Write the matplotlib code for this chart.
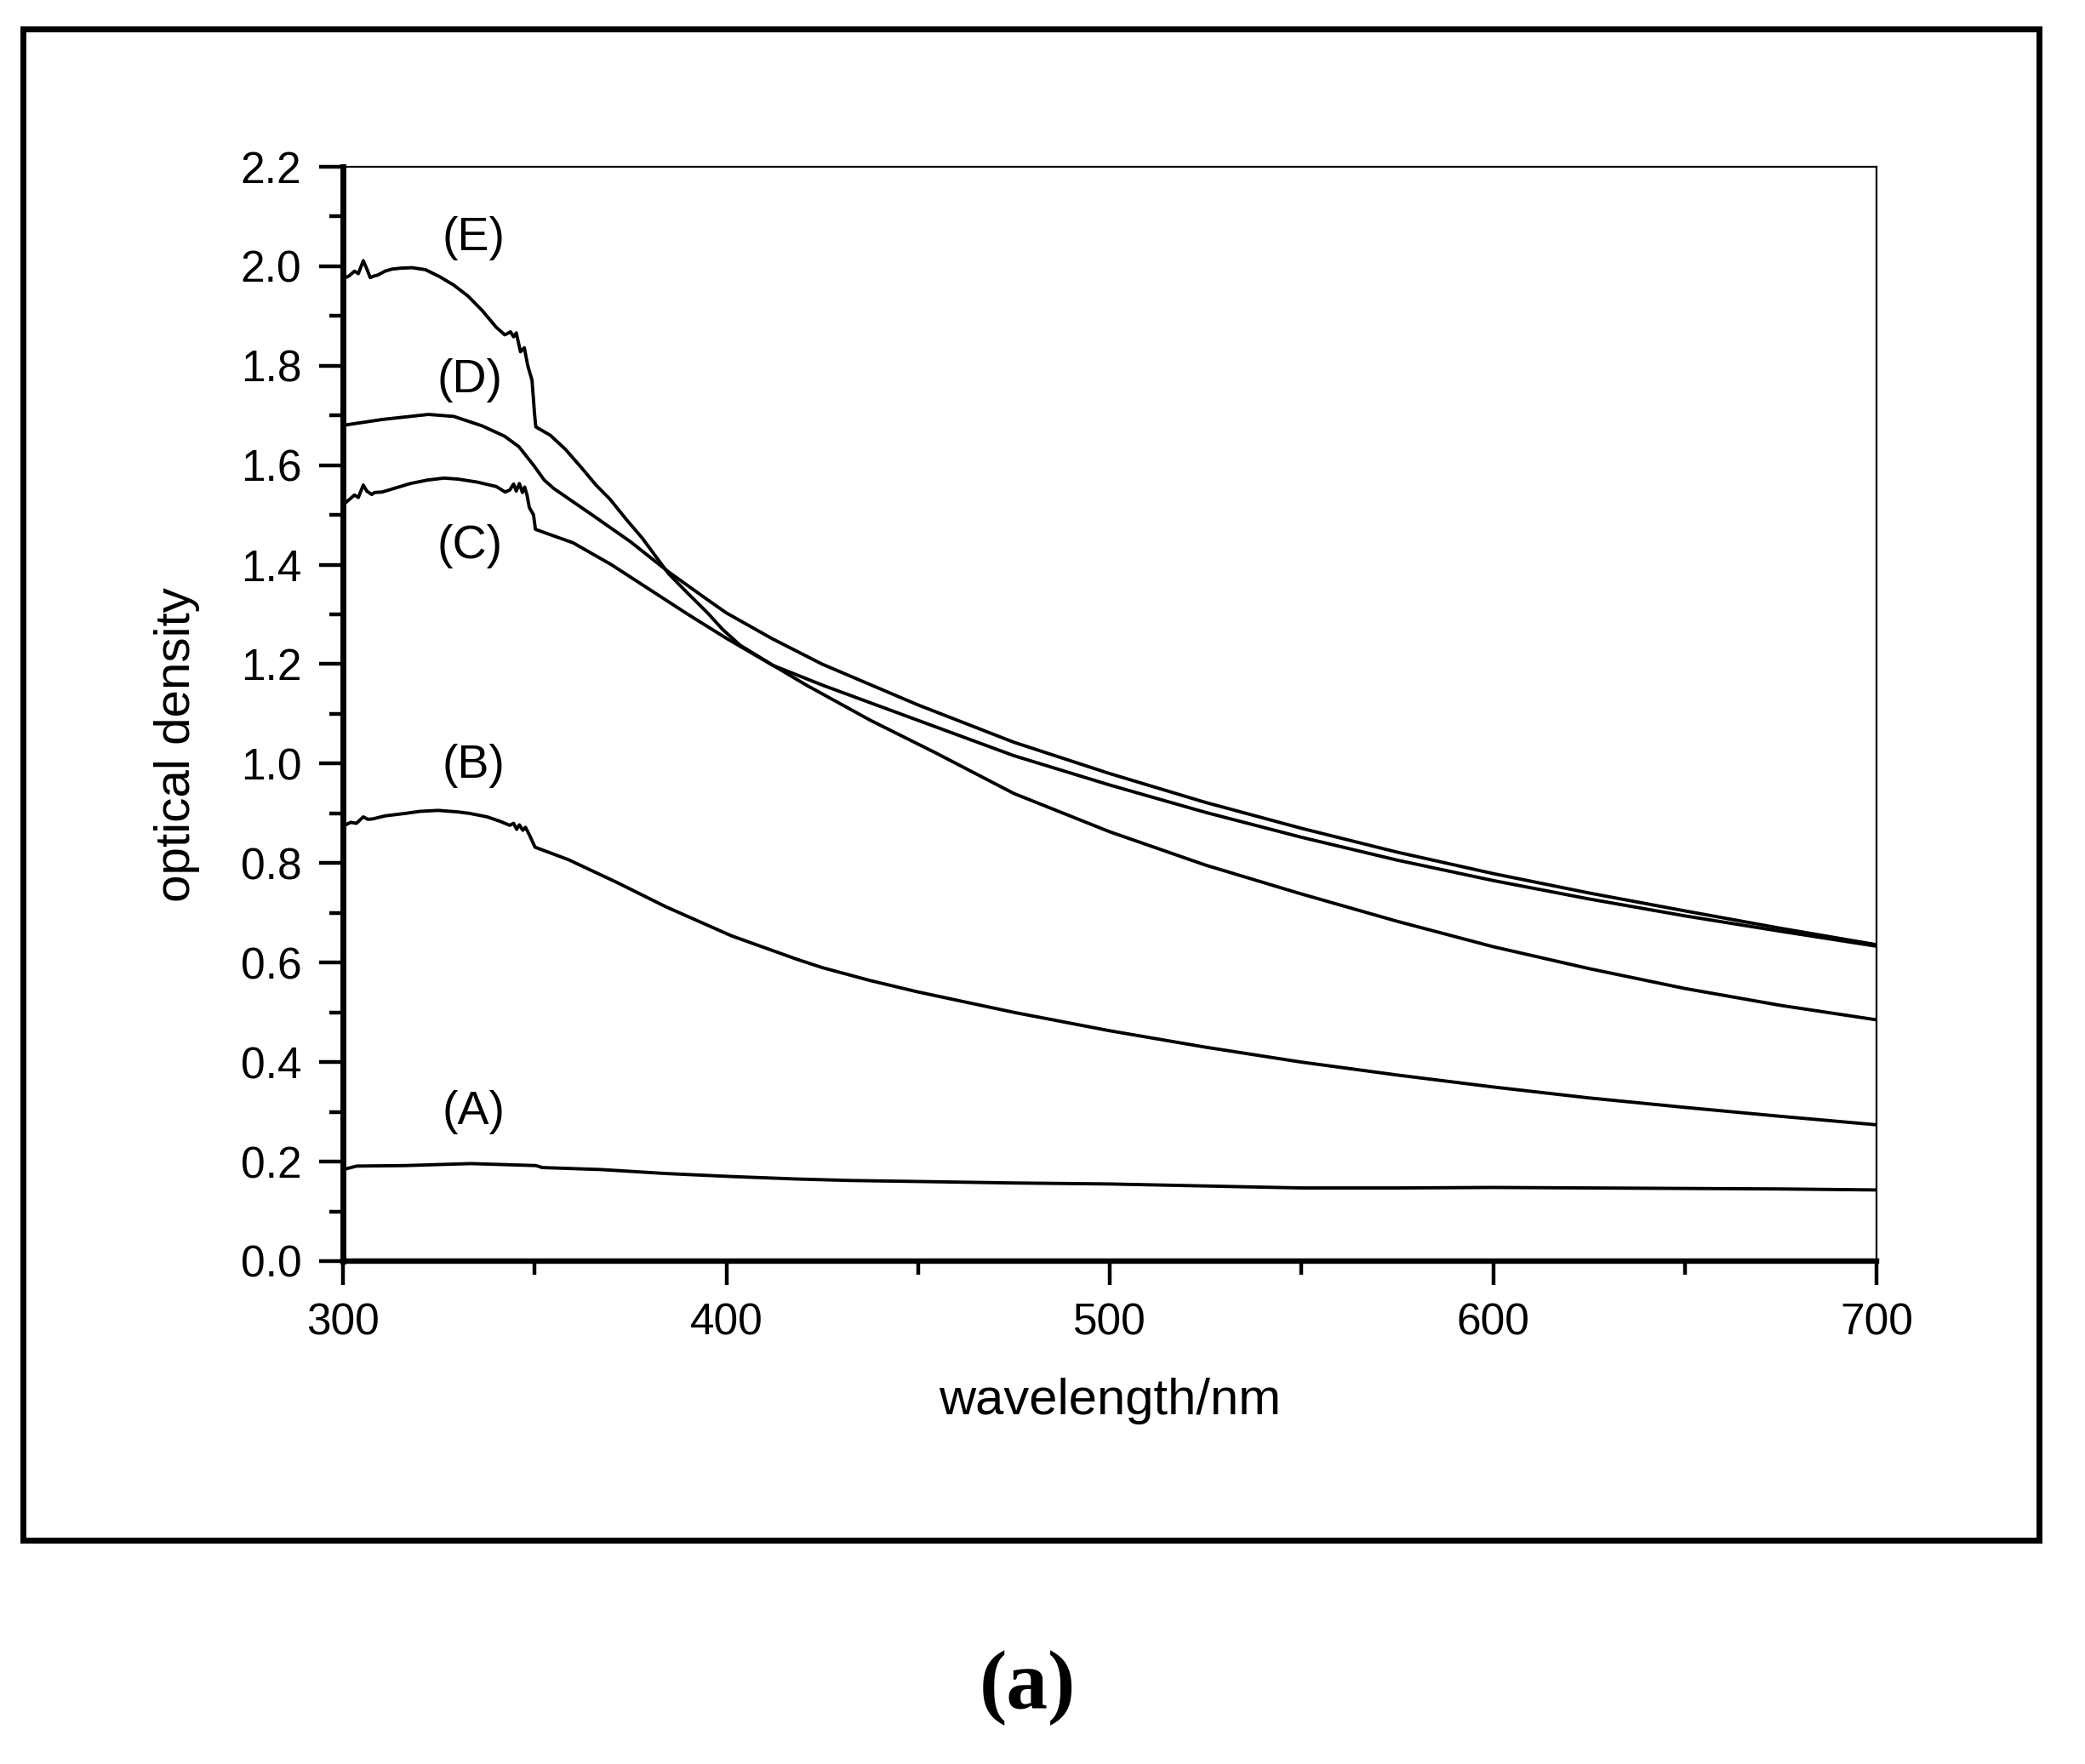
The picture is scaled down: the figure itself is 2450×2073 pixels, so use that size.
import matplotlib
matplotlib.use("Agg")
import matplotlib.pyplot as plt
from matplotlib.patches import Rectangle
from matplotlib.ticker import MultipleLocator, FormatStrFormatter

plt.rcParams['font.family'] = ['Liberation Sans', 'DejaVu Sans']

# ---------------- data ----------------
wl_A = [300, 303.6, 316.3, 333.3, 350.3, 352, 367.3, 384.3, 401.3, 418.3, 432.5,
        450, 475, 500, 525, 550, 575, 600, 625, 650, 675, 700]
od_A = [0.184, 0.191, 0.192, 0.196, 0.192, 0.188, 0.184, 0.176, 0.170, 0.165, 0.162,
        0.160, 0.157, 0.155, 0.151, 0.147, 0.147, 0.148, 0.147, 0.146, 0.145, 0.143]

wl_B = [300.2, 302, 303.5, 305.3, 306.5, 307.8, 311, 316.3, 320, 324.8, 329.9, 333,
        337.6, 341, 343.5, 344.5, 345.3, 346, 346.9, 347.6, 348.6, 350.1, 358.8,
        371.5, 384.3, 401.3, 418.3, 425, 437.5, 450, 475, 500, 525, 550, 575, 600,
        625, 650, 675, 700]
od_B = [0.875, 0.882, 0.880, 0.893, 0.888, 0.889, 0.895, 0.900, 0.904, 0.906, 0.903, 0.900,
        0.893, 0.884, 0.876, 0.880, 0.868, 0.877, 0.866, 0.872, 0.857, 0.832, 0.807,
        0.761, 0.712, 0.654, 0.607, 0.590, 0.564, 0.541, 0.500, 0.463, 0.430, 0.400,
        0.374, 0.350, 0.328, 0.309, 0.291, 0.274]

wl_C = [300, 301.5, 303, 304, 305.3, 306.2, 307.5, 308.2, 310.2, 314.1, 317.5, 322,
        326.3, 330, 335, 340, 342.3, 343.5, 344.5, 345.2, 346, 346.8, 347.4, 348.0,
        348.6, 349.7, 350.2, 352, 360, 370, 380, 390, 400, 412, 425, 450, 475, 500,
        525, 550, 575, 600, 625, 650, 675, 700]
od_C = [1.520, 1.530, 1.540, 1.535, 1.560, 1.548, 1.541, 1.545, 1.546, 1.555, 1.563, 1.570,
        1.574, 1.572, 1.566, 1.557, 1.546, 1.550, 1.562, 1.548, 1.563, 1.545, 1.556, 1.540,
        1.515, 1.500, 1.471, 1.466, 1.444, 1.400, 1.350, 1.300, 1.252, 1.198, 1.158,
        1.087, 1.016, 0.957, 0.902, 0.852, 0.806, 0.765, 0.728, 0.694, 0.663, 0.633]

wl_D = [300, 310.4, 322.3, 328.9, 336.3, 342.2, 345.9, 349.7, 352.5, 355, 365, 375,
        385, 395, 400, 412, 425, 450, 475, 500, 525, 550, 575, 600, 625, 650, 675, 700]
od_D = [1.680, 1.692, 1.702, 1.698, 1.679, 1.658, 1.637, 1.600, 1.570, 1.553, 1.500, 1.446,
        1.385, 1.330, 1.303, 1.251, 1.200, 1.118, 1.043, 0.980, 0.922, 0.870, 0.822,
        0.779, 0.740, 0.704, 0.669, 0.636]

wl_E = [300, 301.5, 303, 304, 305.3, 306.2, 307.1, 308, 309, 311, 312.7, 315, 318,
        321.5, 325.2, 328.9, 332.6, 336.3, 340, 342.2, 343.7, 344.5, 345.2, 346.3,
        347.3, 348.2, 349.3, 350.0, 350.3, 354.1, 358, 362.2, 366, 369.6, 374, 378,
        384.9, 390, 395.1, 399, 403.6, 412.1, 420.6, 437.6, 454.5, 475, 500, 525,
        550, 575, 600, 625, 650, 675, 700]
od_E = [1.975, 1.980, 1.990, 1.985, 2.011, 1.995, 1.977, 1.980, 1.982, 1.990, 1.994, 1.996, 1.997,
        1.993, 1.979, 1.962, 1.940, 1.911, 1.877, 1.862, 1.868, 1.858, 1.866, 1.828,
        1.836, 1.800, 1.771, 1.700, 1.677, 1.660, 1.632, 1.595, 1.560, 1.532, 1.490, 1.454,
        1.382, 1.342, 1.303, 1.270, 1.238, 1.198, 1.159, 1.087, 1.022, 0.940, 0.863, 0.796,
        0.738, 0.683, 0.632, 0.588, 0.548, 0.514, 0.485]

series = [(wl_A, od_A), (wl_B, od_B), (wl_C, od_C), (wl_D, od_D), (wl_E, od_E)]

curve_labels = ["(A)", "(B)", "(C)", "(D)", "(E)"]
label_x = [334, 334, 333, 333, 334]
label_y = [0.300, 0.996, 1.437, 1.770, 2.056]

x_ticks = [300, 400, 500, 600, 700]
y_ticks = [0.0, 0.2, 0.4, 0.6, 0.8, 1.0, 1.2, 1.4, 1.6, 1.8, 2.0, 2.2]

# ---------------- figure ----------------
fig = plt.figure(figsize=(24.5, 20.73), dpi=100)
fig.patch.set_facecolor('white')

# outer frame
frame = Rectangle((0.011, 0.1269), 0.978 - 0.011, 0.9836 - 0.1269,
                  transform=fig.transFigure, fill=False, lw=5, ec='black')
fig.add_artist(frame)

ax = fig.add_axes([0.1645, 0.2851, 0.9000 - 0.1645, 0.9055 - 0.2851])

for wl, od in series:
    ax.plot(wl, od, color='black', lw=2.8, solid_joinstyle='round')

for t, xx, yy in zip(curve_labels, label_x, label_y):
    ax.text(xx, yy, t, fontsize=40, ha='center', va='center')

ax.set_xlim(300, 700)
ax.set_ylim(0, 2.2)
ax.set_xticks(x_ticks)
ax.set_yticks(y_ticks)
ax.xaxis.set_minor_locator(MultipleLocator(50))
ax.yaxis.set_minor_locator(MultipleLocator(0.1))
ax.yaxis.set_major_formatter(FormatStrFormatter('%.1f'))

ax.spines['left'].set_linewidth(5)
ax.spines['bottom'].set_linewidth(4.6)
ax.spines['top'].set_linewidth(1.6)
ax.spines['right'].set_linewidth(1.6)

ax.tick_params(which='both', direction='out', top=False, right=False,
               width=3.2, color='black')
ax.tick_params(which='major', length=20, pad=15, labelsize=37)
ax.tick_params(which='minor', length=11.5)

ax.set_xlabel('wavelength/nm', fontsize=43, va='center')
ax.xaxis.set_label_coords(0.5, -0.128)
ax.set_ylabel('optical density', fontsize=42, va='center', ha='center')
ax.yaxis.set_label_coords(-0.108, 0.472)

fig.text(0.493, 0.043, '(a)', fontsize=70, fontweight='bold',
         family=['Liberation Serif', 'DejaVu Serif'], ha='center', va='center')

fig.savefig('out.png', dpi=100)
